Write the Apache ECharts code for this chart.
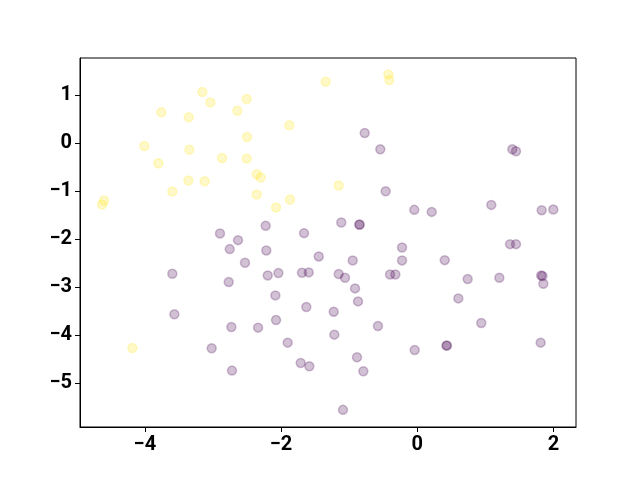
<!DOCTYPE html>
<html><head><meta charset="utf-8">
<script src="https://cdn.jsdelivr.net/npm/echarts@6/dist/echarts.min.js"></script>
<style>html,body{margin:0;padding:0;background:#fff}#c{width:640px;height:480px}</style>
</head><body><div id="c"></div>
<script>
const yellowX = [-1.344,-3.156,-3.038,-2.504,-3.757,-3.355,-2.641,-1.878,-2.499,-4.007,-3.346,-2.866,-2.504,-3.802,-2.357,-2.298,-3.361,-3.121,-3.596,-2.357,-4.599,-4.628,-1.868,-2.073,-0.424,-0.410,-1.153,-4.183];
const yellowY = [1.285,1.069,0.854,0.923,0.646,0.542,0.681,0.375,0.132,-0.056,-0.132,-0.306,-0.319,-0.417,-0.646,-0.715,-0.778,-0.792,-1.007,-1.069,-1.194,-1.278,-1.174,-1.340,1.438,1.319,-0.882,-4.271];
const purpleX = [-2.225,-2.896,-2.631,-1.662,
  -0.771,-0.542,1.397,1.451,-0.463,-0.043,0.213,1.088,1.828,1.999,-1.115,-0.850,-0.845,
  -2.753,-2.216,-1.446,-2.529,-3.596,-2.768,-2.195,-2.039,-1.692,-1.593,-2.083,-1.628,-3.566,-2.729,-2.337,-2.073,-3.018,-1.902,-1.711,-1.584,-2.720,
  -0.223,1.363,1.451,-0.947,-0.223,0.404,-1.153,-1.060,-0.399,-0.321,0.741,1.206,1.820,1.840,1.852,-0.913,-0.869,0.604,-1.226,-1.217,-0.576,0.941,-0.037,0.430,0.436,1.813,-0.884,-0.791,-1.090];
const purpleY = [-1.722,-1.882,-2.021,-1.875,
  0.215,-0.125,-0.125,-0.167,-1.000,-1.389,-1.431,-1.285,-1.396,-1.382,-1.653,-1.694,-1.700,
  -2.208,-2.236,-2.361,-2.493,-2.722,-2.896,-2.757,-2.708,-2.701,-2.694,-3.174,-3.417,-3.569,-3.833,-3.847,-3.688,-4.278,-4.160,-4.583,-4.653,-4.743,
  -2.174,-2.104,-2.104,-2.444,-2.444,-2.438,-2.729,-2.806,-2.736,-2.736,-2.833,-2.806,-2.757,-2.770,-2.931,-3.028,-3.299,-3.236,-3.514,-3.993,-3.812,-3.750,-4.313,-4.222,-4.218,-4.160,-4.465,-4.757,-5.562];
const xTicks = [-4,-2,0,2];
const yTicks = [-5,-4,-3,-2,-1,0,1];

const zip = (xs, ys) => xs.map((x, i) => [x, ys[i]]);
const fmt = v => (v < 0 ? '\u2212' + Math.abs(v) : String(v));
const labelStyle = {fontFamily: 'Roboto', fontWeight: 'bold', fontSize: 20, color: '#000'};

const chart = echarts.init(document.getElementById('c'), null, {renderer: 'canvas'});
chart.setOption({
  animation: false,
  grid: {left: 80, right: 64, top: 58, bottom: 53, show: true, borderColor: '#000', borderWidth: 1, backgroundColor: '#fff'},
  xAxis: {
    type: 'value', min: -4.952, max: 2.332,
    splitLine: {show: false},
    axisLine: {show: true, onZero: false, lineStyle: {color: '#000', width: 1}},
    axisTick: {show: true, inside: false, length: 5, lineStyle: {color: '#000'}, customValues: xTicks},
    axisLabel: {...labelStyle, margin: 8, formatter: fmt, customValues: xTicks}
  },
  yAxis: {
    type: 'value', min: -5.92, max: 1.78,
    splitLine: {show: false},
    axisLine: {show: true, onZero: false, lineStyle: {color: '#000', width: 1}},
    axisTick: {show: true, inside: false, length: 5, lineStyle: {color: '#000'}, customValues: yTicks},
    axisLabel: {...labelStyle, margin: 8, formatter: fmt, customValues: yTicks}
  },
  series: [
    {type: 'scatter', data: zip(purpleX, purpleY), symbolSize: 9,
     itemStyle: {color: 'rgba(68,1,84,0.3)', borderColor: 'rgba(68,1,84,0.3)', borderWidth: 1.5}},
    {type: 'scatter', data: zip(yellowX, yellowY), symbolSize: 9,
     itemStyle: {color: 'rgba(253,231,37,0.3)', borderColor: 'rgba(253,231,37,0.3)', borderWidth: 1.5}}
  ]
});
</script></body></html>
